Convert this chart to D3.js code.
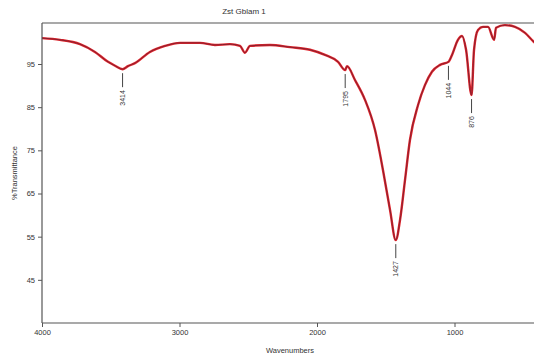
<!DOCTYPE html>
<html>
<head>
<meta charset="utf-8">
<script src="https://cdn.jsdelivr.net/npm/d3@7"></script>
<style>
  html, body { margin: 0; padding: 0; background: #fff; }
  svg { display: block; font-family: "Liberation Sans", Arial, sans-serif; }
</style>
</head>
<body>
<svg id="chart" width="534" height="360"></svg>
<script>
// IR spectrum: wavenumber (cm-1) vs %Transmittance
const wavenumbers = [4000, 3869, 3724, 3615, 3520, 3469, 3414, 3375, 3324, 3215, 3105, 2996,
  2851, 2742, 2633, 2560, 2524, 2487, 2342, 2196, 2051, 1942, 1847, 1795, 1782, 1724,
  1651, 1578, 1520, 1469, 1427, 1396, 1360, 1324, 1265, 1215, 1164, 1105, 1044, 1018,
  975, 945, 916, 876, 858, 829, 793, 756, 712, 698, 633, 560, 487, 422, 400];
const transmittance = [101.0, 100.6, 99.6, 97.8, 95.5, 94.6, 93.8, 94.5, 95.2, 97.8, 99.2, 99.9,
  99.9, 99.4, 99.6, 99.2, 97.6, 99.2, 99.4, 98.9, 98.3, 97.1, 95.5, 93.6, 94.5, 91.3,
  86.7, 79.7, 70.4, 61.2, 54.2, 58.9, 68.1, 77.4, 85.5, 90.1, 93.2, 94.8, 95.5, 97.1,
  100.6, 101.5, 98.3, 87.8, 98.3, 102.9, 103.6, 103.6, 100.6, 103.4, 104.0, 103.6, 102.2, 100.1, 99.5];
const peakLabels = [3414, 1795, 1427, 1044, 876];
const xTicks = [4000, 3000, 2000, 1000];
const yTicks = [95, 85, 75, 65, 55, 45];
const title = "Zst Gblam 1";

const svg = d3.select("#chart");
const margin = { left: 42, top: 23, right: -3, bottom: 37 };
const W = 534, H = 360;

const x = d3.scaleLinear().domain([4000, 400]).range([margin.left, W - margin.right]);
const y = d3.scaleLinear().domain([35, 104.5]).range([H - margin.bottom, margin.top]);

const data = wavenumbers.map((w, i) => ({ w, t: transmittance[i] }));

// clip to plot area
svg.append("clipPath").attr("id", "plotClip")
  .append("rect")
  .attr("x", margin.left).attr("y", margin.top)
  .attr("width", W - margin.left).attr("height", y.range()[0] - margin.top);

// frame top line
svg.append("line")
  .attr("x1", margin.left).attr("x2", W)
  .attr("y1", margin.top).attr("y2", margin.top)
  .attr("stroke", "#555").attr("stroke-width", 1.2);

// spectrum trace: red band with a dark core
const line = d3.line()
  .x(d => x(d.w)).y(d => y(d.t))
  .curve(d3.curveMonotoneX);

const g = svg.append("g").attr("clip-path", "url(#plotClip)");
g.append("path").datum(data)
  .attr("fill", "none").attr("stroke", "#e3242b").attr("stroke-width", 2.4)
  .attr("stroke-linejoin", "round").attr("d", line);
g.append("path").datum(data)
  .attr("fill", "none").attr("stroke", "#7a2030").attr("stroke-width", 0.9)
  .attr("stroke-linejoin", "round").attr("d", line);

// axes
const xAxis = d3.axisBottom(x).tickValues(xTicks).tickSize(4).tickFormat(d3.format("d"));
const yAxis = d3.axisLeft(y).tickValues(yTicks).tickSize(4).tickFormat(d3.format("d"));

const gx = svg.append("g").attr("transform", `translate(0,${y.range()[0]})`).call(xAxis);
const gy = svg.append("g").attr("transform", `translate(${margin.left},0)`).call(yAxis);
[gx, gy].forEach(a => {
  a.select(".domain").attr("stroke", "#555").attr("stroke-width", 1.2);
  a.selectAll(".tick line").attr("stroke", "#555");
  a.selectAll(".tick text").attr("fill", "#333").attr("font-size", 7.5);
});
gx.select(".domain").attr("d", `M${margin.left},0H${W}`);
gy.select(".domain").attr("d", `M0,${margin.top}V${y.range()[0]}`);

// title and axis labels
svg.append("text").attr("x", 244).attr("y", 14).attr("text-anchor", "middle")
  .attr("font-size", 8).attr("fill", "#333").text(title);
svg.append("text").attr("x", 290).attr("y", 353).attr("text-anchor", "middle")
  .attr("font-size", 7.5).attr("fill", "#333").text("Wavenumbers");
svg.append("text")
  .attr("transform", `translate(17,${(margin.top + y.range()[0]) / 2}) rotate(-90)`)
  .attr("text-anchor", "middle").attr("font-size", 7.5).attr("fill", "#333")
  .text("%Transmittance");

// peak annotations
peakLabels.forEach(p => {
  const d = data.find(v => v.w === p);
  const px = x(d.w), py = y(d.t);
  svg.append("line")
    .attr("x1", px).attr("x2", px)
    .attr("y1", py + 4).attr("y2", py + 18)
    .attr("stroke", "#444").attr("stroke-width", 1);
  svg.append("text")
    .attr("transform", `translate(${px + 2.5},${py + 21}) rotate(-90)`)
    .attr("text-anchor", "end").attr("font-size", 7).attr("fill", "#333")
    .text(p);
});
</script>
</body>
</html>
